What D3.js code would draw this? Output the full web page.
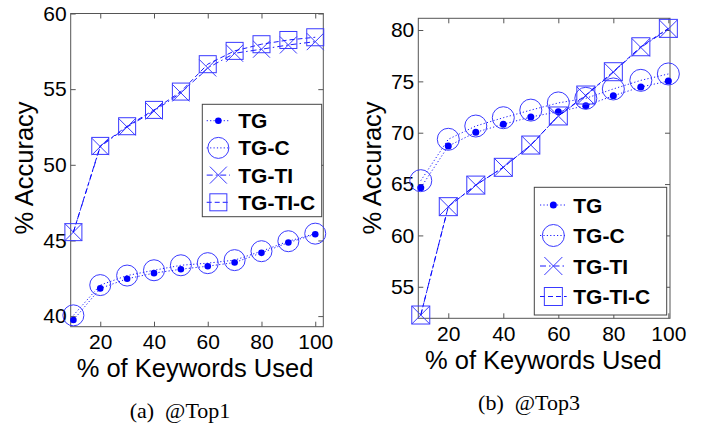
<!DOCTYPE html>
<html>
<head>
<meta charset="utf-8">
<script src="https://cdn.jsdelivr.net/npm/d3@7"></script>
<style>
  body { margin: 0; background: #fff; }
  svg { display: block; }
</style>
</head>
<body>
<div id="chart"></div>
<script>
// data
var keywords = [10, 20, 30, 40, 50, 60, 70, 80, 90, 100];

var top1TG    = [39.74, 41.83, 42.47, 42.84, 43.10, 43.30, 43.54, 44.18, 44.86, 45.41];
var top1TGC   = [40.05, 42.05, 42.68, 43.03, 43.36, 43.50, 43.70, 44.29, 44.95, 45.45];
var top1TGTI  = [45.55, 51.20, 52.50, 53.55, 54.75, 56.40, 57.37, 57.64, 57.92, 58.14];
var top1TGTIC = [45.55, 51.25, 52.55, 53.63, 54.84, 56.65, 57.53, 57.97, 58.25, 58.43];

var top3TG    = [64.65, 68.70, 70.04, 70.82, 71.53, 72.05, 72.63, 73.60, 74.45, 75.03];
var top3TGC   = [65.33, 69.36, 70.65, 71.46, 72.20, 72.90, 73.35, 74.26, 75.10, 75.72];
var top3TGTI  = [52.25, 62.80, 64.90, 66.63, 68.80, 71.63, 73.60, 75.90, 78.30, 80.10];
var top3TGTIC = [52.25, 62.80, 64.90, 66.63, 68.80, 71.63, 73.67, 75.94, 78.37, 80.16];

var seriesNames = ['TG', 'TG-C', 'TG-TI', 'TG-TI-C'];
var xTicks = [20, 40, 60, 80, 100];
var top1YTicks = [40, 45, 50, 55, 60];
var top3YTicks = [55, 60, 65, 70, 75, 80];

var svg = d3.select('#chart').append('svg')
  .attr('width', 711)
  .attr('height', 424);

var sans = '"Liberation Sans", Arial, sans-serif';
var blue = '#0000ff';
var markBlue = '#3a3aff';

var styles = {
  'TG':      { dash: '1.2,2.2', marker: 'dot' },
  'TG-C':    { dash: '1.2,2.2', marker: 'circle' },
  'TG-TI':   { dash: '6,3,1.5,3', marker: 'x' },
  'TG-TI-C': { dash: '5,3', marker: 'square' }
};

function drawMarker(g, type, cx, cy, sz) {
  if (type === 'dot') {
    g.append('circle').attr('cx', cx).attr('cy', cy).attr('r', sz.dot)
      .attr('fill', blue);
  } else if (type === 'circle') {
    g.append('circle').attr('cx', cx).attr('cy', cy).attr('r', sz.circle)
      .attr('fill', 'none').attr('stroke', markBlue).attr('stroke-width', 1);
  } else if (type === 'x') {
    var h = sz.x;
    g.append('path')
      .attr('d', 'M' + (cx - h) + ',' + (cy - h) + 'L' + (cx + h) + ',' + (cy + h) +
                 'M' + (cx - h) + ',' + (cy + h) + 'L' + (cx + h) + ',' + (cy - h))
      .attr('stroke', markBlue).attr('stroke-width', 1).attr('fill', 'none');
  } else {
    var s = sz.square;
    g.append('rect').attr('x', cx - s / 2).attr('y', cy - s / 2)
      .attr('width', s).attr('height', s)
      .attr('fill', 'none').attr('stroke', markBlue).attr('stroke-width', 1);
  }
}

function panel(opt) {
  var x = d3.scaleLinear().domain(opt.xDomain).range(opt.xRange);
  var y = d3.scaleLinear().domain(opt.yDomain).range(opt.yRange);
  var g = svg.append('g');

  var x0 = opt.xRange[0], x1 = opt.xRange[1];
  var yb = opt.yRange[0], yt = opt.yRange[1];

  // axes with inward ticks
  var bottom = g.append('g').attr('transform', 'translate(0,' + yb + ')')
    .call(d3.axisBottom(x).tickValues(xTicks).tickSize(-5).tickPadding(7.5));
  var topAx = g.append('g').attr('transform', 'translate(0,' + yt + ')')
    .call(d3.axisTop(x).tickValues(xTicks).tickSize(-5).tickFormat(''));
  var left = g.append('g').attr('transform', 'translate(' + x0 + ',0)')
    .call(d3.axisLeft(y).tickValues(opt.yTicks).tickSize(-5).tickPadding(4));
  var right = g.append('g').attr('transform', 'translate(' + x1 + ',0)')
    .call(d3.axisRight(y).tickValues(opt.yTicks).tickSize(-5).tickFormat(''));

  [bottom, topAx, left, right].forEach(function (a) {
    a.select('.domain').remove();
    a.selectAll('line').attr('stroke', '#555');
    a.selectAll('text').attr('font-family', sans).attr('font-size', 21).attr('fill', '#000');
  });

  g.append('rect')
    .attr('x', x0).attr('y', yt)
    .attr('width', x1 - x0).attr('height', yb - yt)
    .attr('fill', 'none').attr('stroke', '#555').attr('stroke-width', 1);

  var line = d3.line()
    .x(function (d, i) { return x(keywords[i]); })
    .y(function (d) { return y(d); });

  var plot = g.append('g');
  opt.series.forEach(function (vals, si) {
    var st = styles[seriesNames[si]];
    plot.append('path')
      .datum(vals)
      .attr('d', line)
      .attr('fill', 'none')
      .attr('stroke', blue)
      .attr('stroke-width', 0.9)
      .attr('stroke-dasharray', st.dash);
    vals.forEach(function (v, i) {
      drawMarker(plot, st.marker, x(keywords[i]), y(v), opt.marker);
    });
  });

  // legend
  var lg = opt.legend;
  g.append('rect')
    .attr('x', lg.x).attr('y', lg.y)
    .attr('width', lg.w).attr('height', lg.h)
    .attr('fill', '#fff').attr('stroke', '#444').attr('stroke-width', 1);
  seriesNames.forEach(function (name, i) {
    var st = styles[name];
    var ry = lg.rowY + i * lg.step;
    g.append('line')
      .attr('x1', lg.lineX0).attr('x2', lg.lineX1)
      .attr('y1', ry).attr('y2', ry)
      .attr('stroke', blue).attr('stroke-width', 0.9)
      .attr('stroke-dasharray', st.dash);
    drawMarker(g, st.marker, (lg.lineX0 + lg.lineX1) / 2, ry, opt.marker);
    g.append('text')
      .attr('x', lg.textX).attr('y', ry + 7.5)
      .attr('font-family', sans).attr('font-size', 21).attr('font-weight', 'bold')
      .text(name);
  });

  // axis titles
  g.append('text')
    .attr('x', opt.xLabel[0]).attr('y', opt.xLabel[1])
    .attr('text-anchor', 'middle')
    .attr('font-family', sans).attr('font-size', 25.5)
    .text('% of Keywords Used');

  g.append('text')
    .attr('transform', 'translate(' + opt.yLabel[0] + ',' + opt.yLabel[1] + ') rotate(-90)')
    .attr('text-anchor', 'middle')
    .attr('font-family', sans).attr('font-size', 25.5)
    .text('% Accuracy');

  g.append('text')
    .attr('x', opt.caption[0]).attr('y', opt.caption[1])
    .attr('text-anchor', 'middle')
    .attr('font-family', '"Liberation Serif", "Times New Roman", serif')
    .attr('font-size', 22)
    .style('white-space', 'pre')
    .text(opt.caption[2]);
}

panel({
  xDomain: [9, 103], xRange: [70.7, 323.3],
  yDomain: [39.3, 60], yRange: [326.7, 13.5],
  yTicks: top1YTicks,
  series: [top1TG, top1TGC, top1TGTI, top1TGTIC],
  marker: { dot: 3.3, circle: 10.5, x: 8.5, square: 17 },
  legend: { x: 202.3, y: 104.3, w: 119.4, h: 112.4, rowY: 120.7, step: 27.2,
            lineX0: 206.7, lineX1: 230, textX: 238.3 },
  xLabel: [195, 377],
  yLabel: [33, 168],
  caption: [180, 418, '(a)  @Top1']
});

panel({
  xDomain: [9.1, 100.6], xRange: [418.3, 670],
  yDomain: [51.93, 81.14], yRange: [318.3, 18.3],
  yTicks: top3YTicks,
  series: [top3TG, top3TGC, top3TGTI, top3TGTIC],
  marker: { dot: 3.5, circle: 11, x: 9, square: 18 },
  legend: { x: 534.3, y: 187.3, w: 132.4, h: 127.7, rowY: 205, step: 30.5,
            lineX0: 540, lineX1: 566.7, textX: 573.3 },
  xLabel: [543.3, 368.5],
  yLabel: [381, 168],
  caption: [529, 410, '(b)  @Top3']
});
</script>
</body>
</html>
